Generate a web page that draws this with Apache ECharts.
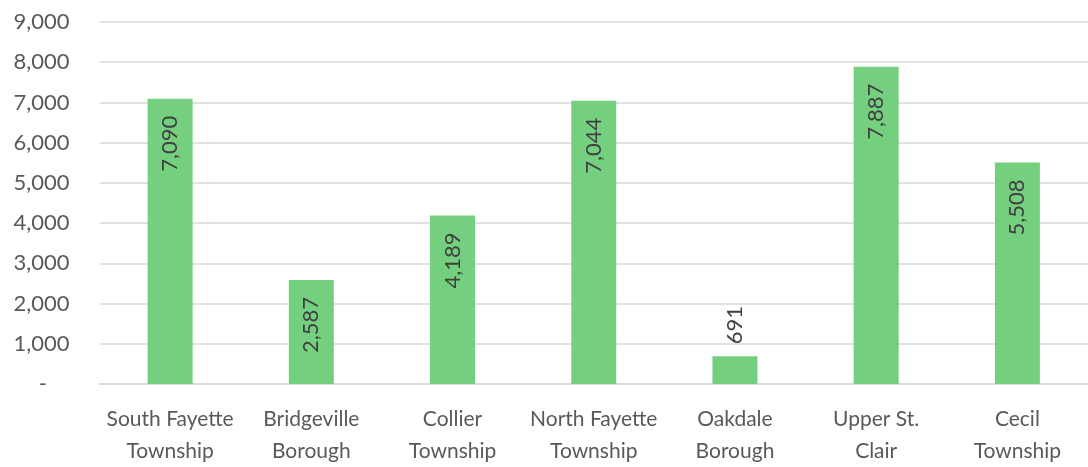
<!DOCTYPE html>
<html><head><meta charset="utf-8">
<script src="https://cdn.jsdelivr.net/npm/echarts@6/dist/echarts.min.js"></script>
<style>html,body{margin:0;padding:0;background:#fff}#c{width:1088px;height:467px}</style>
</head><body><div id="c"></div>
<script>
const categories = ["South Fayette\nTownship","Bridgeville\nBorough","Collier\nTownship","North Fayette\nTownship","Oakdale\nBorough","Upper St.\nClair","Cecil\nTownship"];
const values = [7090, 2587, 4189, 7044, 691, 7887, 5508];
const outsideLabel = [false, false, false, false, true, false, false];
const yMin = 0, yMax = 9000, yStep = 1000;
const font = "Lato, 'Open Sans', sans-serif";

const chart = echarts.init(document.getElementById('c'));
chart.setOption({
  animation: false,
  grid: {left: 99.5, top: 22, width: 994, bottom: 78, containLabel: false},
  xAxis: {
    type: 'category', data: categories,
    axisLine: {lineStyle: {color: '#d9d9d9', width: 1.5}},
    axisTick: {show: false},
    axisLabel: {interval: 0, color: '#595959', fontSize: 21, fontFamily: font, lineHeight: 32, margin: 19}
  },
  yAxis: {
    type: 'value', min: yMin, max: yMax, interval: yStep,
    axisLine: {show: false}, axisTick: {show: false},
    splitLine: {lineStyle: {color: '#d9d9d9', width: 1.5}},
    axisLabel: {color: '#595959', fontSize: 22, fontFamily: font, margin: 30,
      formatter: v => v === 0 ? '-    ' : v.toLocaleString('en-US')}
  },
  series: [{
    type: 'bar', barWidth: 45,
    itemStyle: {color: '#74cf7e'},
    data: values.map((v, i) => ({
      value: v,
      label: outsideLabel[i]
        ? {show: true, position: 'top', rotate: 90, align: 'left', verticalAlign: 'middle', distance: 12}
        : {show: true, position: 'insideTop', rotate: 90, align: 'right', verticalAlign: 'middle', distance: 17}
    })),
    label: {color: '#404040', fontSize: 22, fontFamily: font,
      formatter: p => p.value.toLocaleString('en-US')}
  }]
});
</script></body></html>
